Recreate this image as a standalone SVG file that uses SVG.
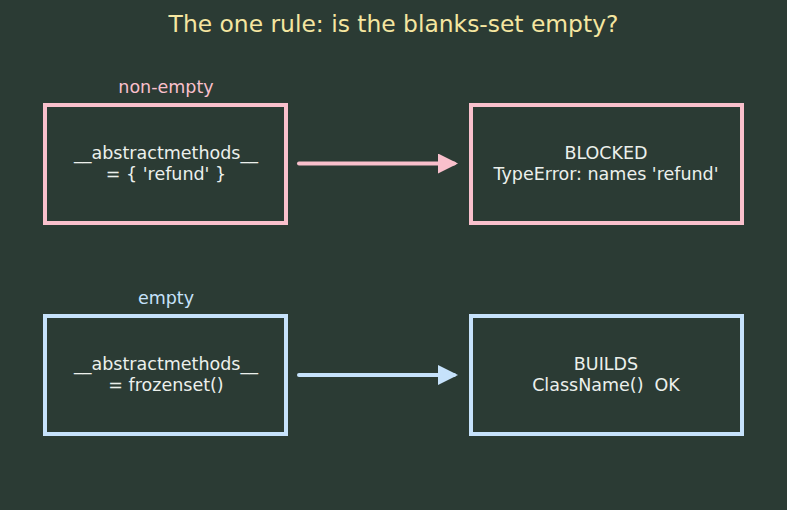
<svg xmlns="http://www.w3.org/2000/svg" width="787" height="510" viewBox="0 0 787 510">
<style>
text{font-family:"DejaVu Sans","Liberation Sans",sans-serif;text-anchor:middle;white-space:pre}
.t{fill:#f5e6a0;font-size:23.4px}
.lbl{font-size:17.5px}
.n{fill:#ecf0ec;font-size:17.5px}
.box{fill:#2b3b34;stroke-width:4}
.pk{stroke:#f9c0cc}
.bl{stroke:#c6e2fb}
.e{stroke-width:4;stroke-linecap:round;fill:none}
</style>
<defs>
<marker id="ap" markerWidth="5" markerHeight="5" refX="4" refY="2.5" orient="auto" markerUnits="strokeWidth"><path d="M0,0 L5,2.5 L0,5 z" fill="#f9c0cc"/></marker>
<marker id="ab" markerWidth="5" markerHeight="5" refX="4" refY="2.5" orient="auto" markerUnits="strokeWidth"><path d="M0,0 L5,2.5 L0,5 z" fill="#c6e2fb"/></marker>
</defs>
<rect width="787" height="510" fill="#2b3b34"/>
<text class="t" x="393.5" y="32">The one rule: is the blanks-set empty?</text>
<text class="lbl" x="166" y="93" fill="#f9c0cc">non-empty</text>
<text class="lbl" x="166" y="304" fill="#c6e2fb">empty</text>
<g id="connectors">
<line class="e" x1="299" y1="163.5" x2="454" y2="163.5" stroke="#f9c0cc" marker-end="url(#ap)"/>
<line class="e" x1="299" y1="375" x2="454" y2="375" stroke="#c6e2fb" marker-end="url(#ab)"/>
</g>
<g id="n1"><rect class="box pk" x="45" y="105" width="241" height="118"/>
<text class="n" x="166" y="159">__abstractmethods__</text><text class="n" x="166" y="180">= { 'refund' }</text></g>
<g id="n2"><rect class="box pk" x="471" y="105" width="271" height="118"/>
<text class="n" x="606" y="159">BLOCKED</text><text class="n" x="606" y="180">TypeError: names 'refund'</text></g>
<g id="n3"><rect class="box bl" x="45" y="316" width="241" height="118"/>
<text class="n" x="166" y="370">__abstractmethods__</text><text class="n" x="166" y="391">= frozenset()</text></g>
<g id="n4"><rect class="box bl" x="471" y="316" width="271" height="118"/>
<text class="n" x="606" y="370">BUILDS</text><text class="n" x="606" y="391">ClassName()  OK</text></g>
</svg>
